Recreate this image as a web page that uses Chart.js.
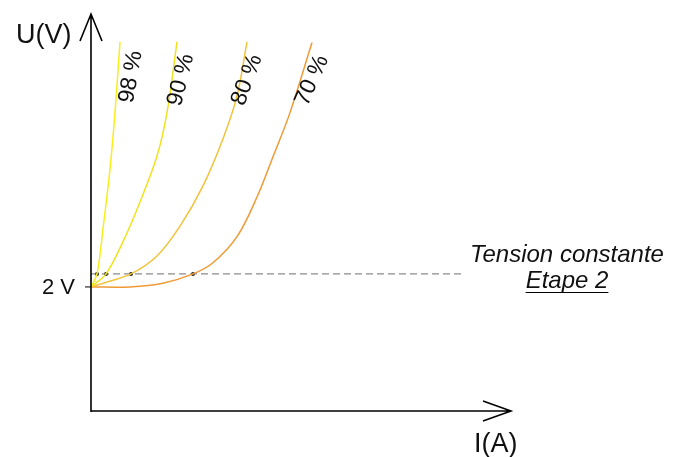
<!DOCTYPE html>
<html>
<head>
<meta charset="utf-8">
<script src="https://cdn.jsdelivr.net/npm/chart.js@4.4.1/dist/chart.umd.min.js"></script>
<style>
  html, body { margin: 0; padding: 0; background: #fff; }
  #wrap { width: 683px; height: 457px; }
</style>
</head>
<body>
<div id="wrap"><canvas id="graphe"></canvas></div>
<script>
// courbes U(I) selon le rendement (unités arbitraires)
const noms = ['98 %', '90 %', '80 %', '70 %'];
const courbe98 = [[0, 2], [0.6, 2.21], [1.2, 2.94], [1.9, 3.9], [2.4, 4.81], [2.9, 5.95]];
const courbe90 = [[0, 2], [1.5, 2.21], [3.2, 2.73], [4.9, 3.37], [6.6, 4.11], [7.6, 4.81], [8.6, 5.95]];
const courbe80 = [[0, 2], [1.6, 2.08], [4.0, 2.21], [6.6, 2.5], [8.9, 2.98], [11.2, 3.63], [13.2, 4.39], [14.6, 5.08], [15.6, 5.95]];
const courbe70 = [[0, 2], [3.9, 2.0], [7.2, 2.06], [10.2, 2.21], [12.2, 2.39], [14.6, 2.81], [16.6, 3.45], [18.2, 4.1], [19.9, 4.81], [22.1, 5.94]];
const tensionConstante = 2.21;
const finPointilles = 37.4;
const intersections = [0.6, 1.5, 4.0, 10.2];
const repereY = 2;

const couleurs = ['#f7ee1c', '#f0e21e', '#f2c23a', '#ef9a35'];
const courbes = [courbe98, courbe90, courbe80, courbe70];

const versPoints = arr => arr.map(p => ({ x: p[0], y: p[1] }));

const datasets = courbes.map((c, i) => ({
  label: noms[i],
  data: versPoints(c),
  showLine: true,
  borderColor: couleurs[i],
  borderWidth: 1.5,
  pointRadius: 0,
  tension: 0.35
}));

datasets.push({
  label: 'tension',
  data: [{ x: 0, y: tensionConstante }, { x: finPointilles, y: tensionConstante }],
  showLine: true,
  borderColor: '#6e6e6e',
  borderWidth: 1,
  borderDash: [7, 4],
  pointRadius: 0
});

datasets.push({
  label: 'points',
  data: intersections.map(x => ({ x, y: tensionConstante })),
  showLine: false,
  pointRadius: 2,
  pointBackgroundColor: '#222',
  pointBorderWidth: 0
});

const decalages = [[11, 35], [4, 38], [0, 38], [0, 38]];
const angles = [-80, -76, -70, -66];

const dessin = {
  id: 'dessin',
  afterDatasetsDraw(chart) {
    const { ctx, scales: { x, y } } = chart;
    const x0 = x.getPixelForValue(0), y0 = y.getPixelForValue(0);
    const yTop = y.getPixelForValue(y.max);
    const xEnd = x.getPixelForValue(x.max);
    ctx.save();
    ctx.strokeStyle = '#000';
    ctx.lineWidth = 1.6;
    ctx.beginPath();
    // axe vertical + flèche
    ctx.moveTo(x0, y0 + 1); ctx.lineTo(x0, yTop);
    ctx.moveTo(x0 - 11, yTop + 27); ctx.lineTo(x0, yTop); ctx.lineTo(x0 + 11, yTop + 27);
    // axe horizontal + flèche
    ctx.moveTo(x0, y0); ctx.lineTo(xEnd, y0);
    ctx.moveTo(xEnd - 28, y0 - 10); ctx.lineTo(xEnd, y0); ctx.lineTo(xEnd - 28, y0 + 10);
    ctx.stroke();
    // repère 2 V
    const y2 = y.getPixelForValue(repereY);
    ctx.lineWidth = 1;
    ctx.beginPath();
    ctx.moveTo(x0 - 6, y2); ctx.lineTo(x0, y2);
    ctx.stroke();

    ctx.fillStyle = '#111';
    ctx.font = '22px "Liberation Sans", Arial, sans-serif';
    ctx.textAlign = 'right';
    ctx.textBaseline = 'middle';
    ctx.fillText(repereY + ' V', x0 - 16, y2 + 1);

    ctx.font = '27px "Liberation Sans", Arial, sans-serif';
    ctx.textAlign = 'left';
    ctx.textBaseline = 'alphabetic';
    ctx.fillText('U(V)', 16, 43);
    ctx.fillText('I(A)', 474, 452);

    // libellé tension constante
    ctx.font = 'italic 24px "Liberation Sans", Arial, sans-serif';
    ctx.textAlign = 'center';
    ctx.fillText('Tension constante', 567, 262);
    ctx.fillText('Etape 2', 567, 288);
    const w = ctx.measureText('Etape 2').width;
    ctx.lineWidth = 1.2;
    ctx.beginPath();
    ctx.moveTo(567 - w / 2, 292.5); ctx.lineTo(567 + w / 2, 292.5);
    ctx.stroke();

    // noms des courbes
    ctx.font = '23px "Liberation Sans", Arial, sans-serif';
    ctx.textBaseline = 'middle';
    courbes.forEach((c, i) => {
      const der = c[c.length - 1];
      const px = x.getPixelForValue(der[0]) + decalages[i][0];
      const py = y.getPixelForValue(der[1]) + decalages[i][1];
      ctx.save();
      ctx.translate(px, py);
      ctx.rotate(angles[i] * Math.PI / 180);
      ctx.fillText(noms[i], 0, 0);
      ctx.restore();
    });
    ctx.restore();
  }
};

new Chart(document.getElementById('graphe'), {
  type: 'scatter',
  data: { datasets },
  options: {
    responsive: true,
    maintainAspectRatio: false,
    animation: false,
    layout: { padding: { left: 91, right: 172, top: 14, bottom: 46 } },
    plugins: { legend: { display: false }, tooltip: { enabled: false } },
    scales: {
      x: { type: 'linear', min: 0, max: 42, display: false },
      y: { type: 'linear', min: 0, max: 6.4, display: false }
    }
  },
  plugins: [dessin]
});
</script>
</body>
</html>
